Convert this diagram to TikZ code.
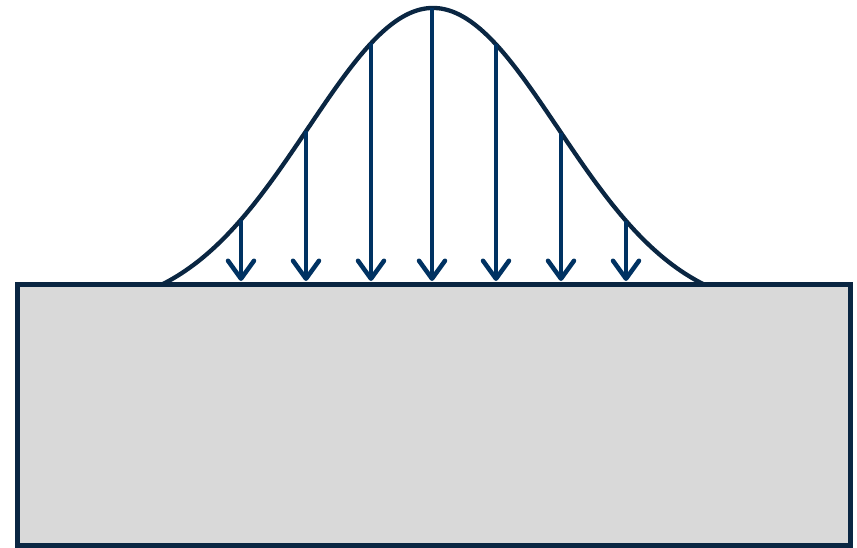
\documentclass[tikz,border=0pt]{standalone}
\usetikzlibrary{arrows.meta}
\definecolor{linec}{RGB}{10,38,66}
\definecolor{arrowc}{RGB}{0,50,98}
\definecolor{blockc}{RGB}{217,217,217}
\tikzset{
  block/.style={draw=linec, fill=blockc, line width=5pt},
  bell/.style={draw=linec, line width=4.3pt},
  load/.style={draw=arrowc, line width=4.5pt, -{Straight Barb[length=18pt,width=26pt,round]}}
}
\begin{document}
\begin{tikzpicture}[x=1pt,y=-1pt]
\useasboundingbox (0,0) rectangle (857,548);
\pgfmathsetmacro{\gz}{exp(-(270/176.777)^2)}
% curve
\draw[bell, domain=163:704, samples=180, smooth]
  plot (\x, {284 - 276*(exp(-((\x-433)/176.777)^2)-\gz)/(1-\gz)});
% block
\path[block] (17.5,284.5) rectangle (850,545.5);
% arrows
\foreach \xa/\nm in {241/a1,306/a2,371/a3,432/a4,496/a5,561/a6,626/a7}{
  \pgfmathsetmacro{\yt}{284 - 276*(exp(-((\xa-433)/176.777)^2)-\gz)/(1-\gz)}
  \coordinate (\nm top) at (\xa,\yt);
  \coordinate (\nm bot) at (\xa,281);
  \draw[load] (\nm top) -- (\nm bot);
}
\end{tikzpicture}
\end{document}
